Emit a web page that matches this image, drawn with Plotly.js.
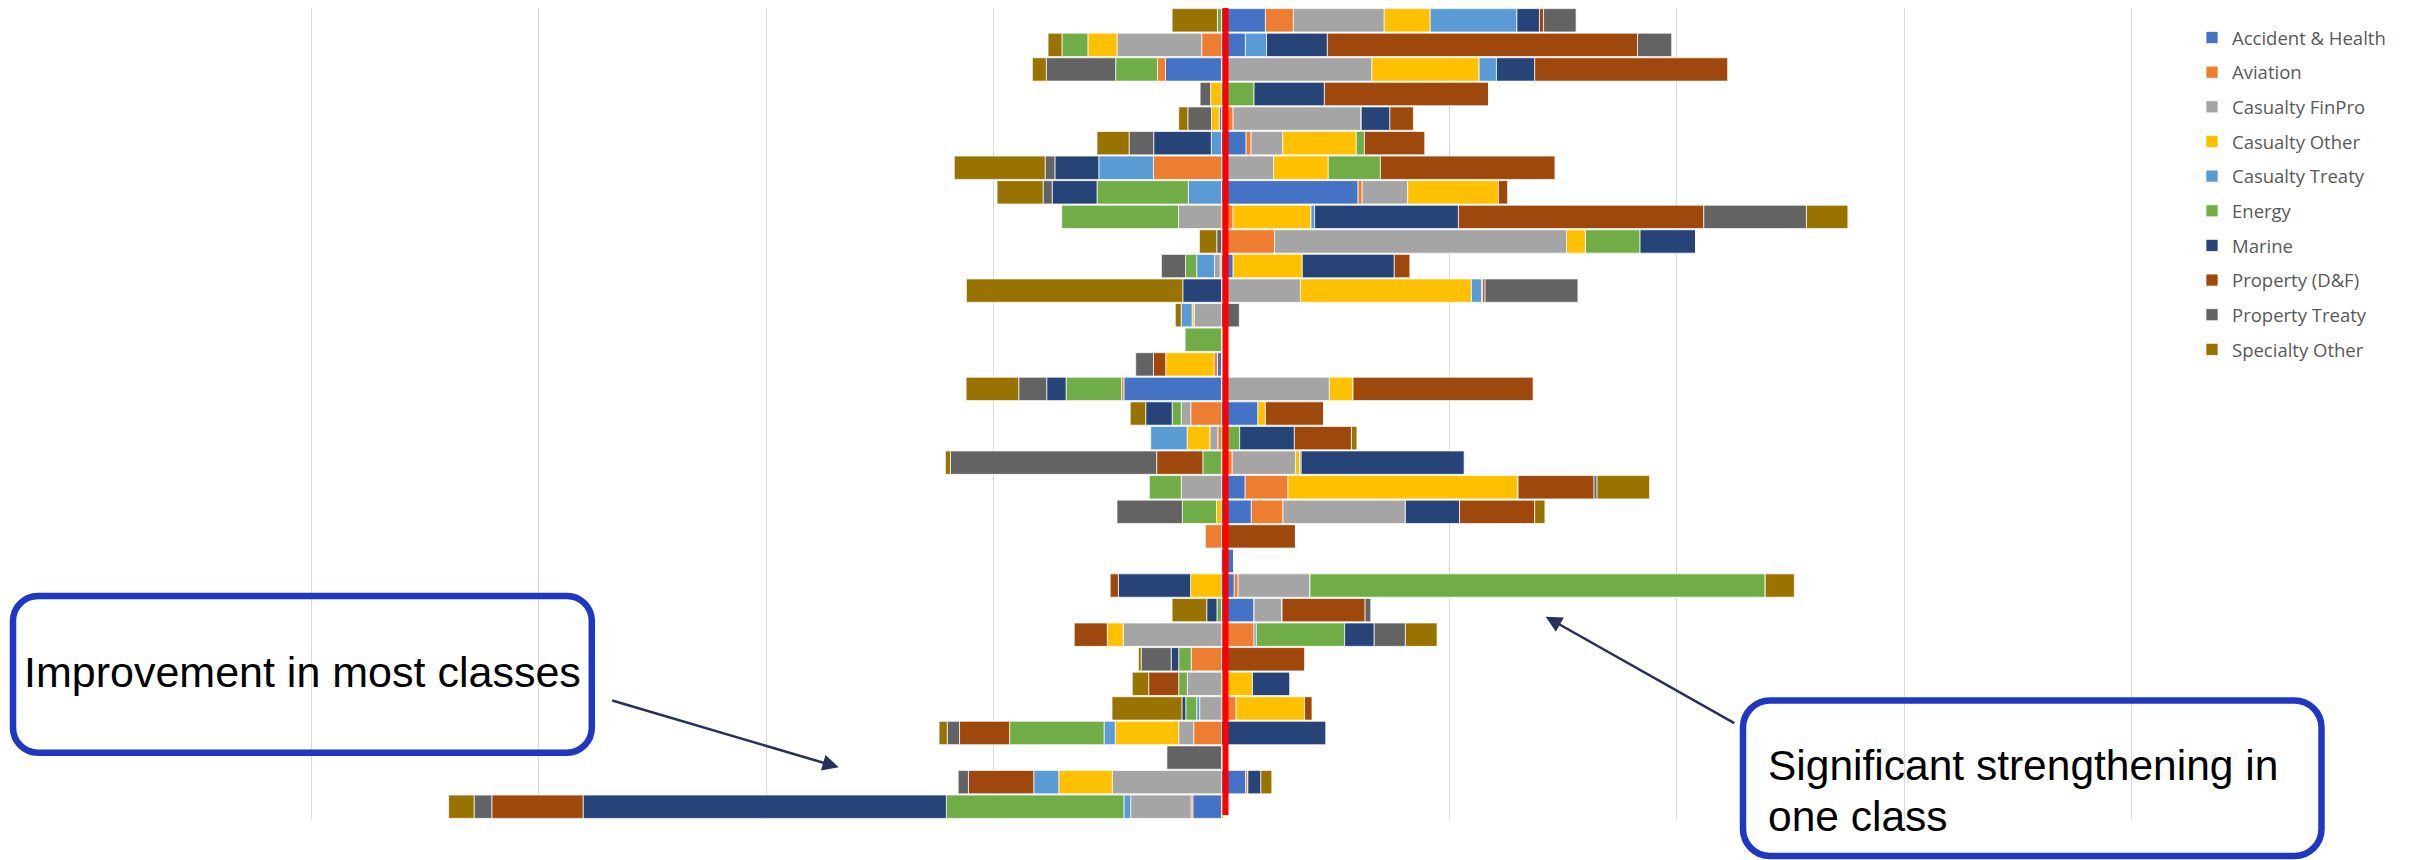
<!DOCTYPE html>
<html><head><meta charset="utf-8">
<script src="https://cdn.plot.ly/plotly-3.0.1.min.js"></script>
<style>html,body{margin:0;padding:0;background:#fff}#chart{width:2415px;height:860px}</style>
</head><body><div id="chart"></div>
<script>
// Row categories (top to bottom)
const rows = ['1','2','3','4','5','6','7','8','9','10','11','12','13','14','15','16','17','18','19','20','21','22','23','24','25','26','27','28','29','30','31','32','33'];

const seriesNames = ['Accident & Health','Aviation','Casualty FinPro','Casualty Other','Casualty Treaty','Energy','Marine','Property (D&F)','Property Treaty','Specialty Other'];
const seriesColors = ['#4472C4','#ED7D31','#A5A5A5','#FFC000','#5B9BD5','#70AD47','#264478','#9E480E','#636363','#997300'];

const accidentHealth = [0.193,0.105,-0.246,0,-0.010,0.108,0,0.600,0,0,0.051,0,0,0,-0.018,-0.429,0.160,0,0,0.104,0.131,0,0.054,0.056,0.143,0,0,0,0,0,0,0.106,-0.126];
const aviation       = [0.123,-0.087,-0.035,0,0.051,0.022,-0.299,0.018,0.051,0.233,-0.006,0,0,0,-0.015,-0.010,-0.135,-0.016,0.047,0.188,0.139,-0.071,0,0.017,0,0.143,-0.133,0,0.064,-0.122,0,0.010,-0.008];
const casualtyFinPro = [0.399,-0.372,0.661,0,0.563,0.139,0.229,0.200,-0.189,1.283,-0.025,0.347,-0.120,0,0,0.474,-0.042,-0.035,0.278,-0.177,0.538,0,0,0.316,0.123,-0.432,0,-0.150,-0.096,-0.066,0,-0.480,-0.265];
const casualtyOther  = [0.202,-0.128,0.471,-0.048,-0.034,0.323,0.240,0.399,0.342,0.083,0.304,0.751,-0.009,0,-0.212,0.104,0.033,-0.100,0.019,1.011,-0.022,0,0,-0.136,0,-0.070,0,0.136,0.301,-0.279,0,-0.235,0.010];
const casualtyTreaty = [0.381,0.093,0.076,0,0,-0.045,-0.240,-0.146,0.016,0,-0.078,0.045,-0.048,0,0,0,0,-0.160,0.006,0,0,0,0,0,0,0.010,0,0,-0.013,-0.049,0,-0.110,-0.030];
const energy         = [-0.018,-0.114,-0.184,0.143,0,0.036,0.229,-0.401,-0.513,0.240,-0.049,0.005,0,-0.160,0,-0.244,-0.040,0.080,-0.082,-0.140,-0.150,0,0,2.000,-0.020,0.388,-0.055,-0.038,-0.048,-0.415,0,0,-0.780];
const marine         = [0.099,0.267,0.168,0.309,0.126,-0.253,-0.193,-0.197,0.632,0.244,0.404,-0.170,0,0,0,-0.085,-0.116,0.240,0.716,0,0.238,0,0,-0.317,-0.045,0.130,-0.033,0.165,-0.017,0.458,0,0.057,-1.596];
const propertyDF     = [0.018,1.363,0.848,0.722,0.103,0.265,0.767,0.040,1.078,0,0.070,0.010,0,0,-0.054,0.791,0.256,0.251,-0.203,0.334,0.330,0.325,0,-0.036,0.365,-0.145,0.365,-0.132,0.034,-0.220,0,-0.287,-0.401];
const propertyTreaty = [0.143,0.150,-0.305,-0.046,-0.104,-0.108,-0.043,-0.040,0.451,-0.021,-0.106,0.408,0.078,0,-0.078,-0.123,0,0,-0.906,0.013,-0.287,0,0,0,0.025,0.137,-0.132,0,0,-0.054,-0.240,-0.045,-0.078];
const specialtyOther = [-0.199,-0.061,-0.061,0,-0.040,-0.141,-0.399,-0.202,0.182,-0.076,0,-0.951,-0.026,0,0,-0.231,-0.068,0.024,-0.022,0.231,0.045,0,0,0.128,-0.152,0.139,-0.012,-0.072,-0.307,-0.036,0,0.048,-0.112];

const seriesValues = [accidentHealth, aviation, casualtyFinPro, casualtyOther, casualtyTreaty, energy, marine, propertyDF, propertyTreaty, specialtyOther];

const annoLeft = 'Improvement in most classes';
const annoRightLine1 = 'Significant strengthening in';
const annoRightLine2 = 'one class';

// ---- layout geometry (pixels) ----
const W = 2415, H = 860;
const M = {l: 309, r: 281, t: 8, b: 41};
const PW = W - M.l - M.r, PH = H - M.t - M.b;
const HALF = PW / 2 / 227.6;
const px2x = p => (p - M.l) / PW;
const px2y = p => (H - M.b - p) / PH;

function roundRect(x0, y0, x1, y1, r) {
  const k = 0.5523 * r;
  const P = (x, y) => px2x(x).toFixed(5) + ',' + px2y(y).toFixed(5);
  return 'M' + P(x0 + r, y0) +
    ' L' + P(x1 - r, y0) +
    ' C' + P(x1 - r + k, y0) + ' ' + P(x1, y0 + r - k) + ' ' + P(x1, y0 + r) +
    ' L' + P(x1, y1 - r) +
    ' C' + P(x1, y1 - r + k) + ' ' + P(x1 - r + k, y1) + ' ' + P(x1 - r, y1) +
    ' L' + P(x0 + r, y1) +
    ' C' + P(x0 + r - k, y1) + ' ' + P(x0, y1 - r + k) + ' ' + P(x0, y1 - r) +
    ' L' + P(x0, y0 + r) +
    ' C' + P(x0, y0 + r - k) + ' ' + P(x0 + r - k, y0) + ' ' + P(x0 + r, y0) + ' Z';
}

const traces = seriesNames.map((name, i) => ({
  type: 'bar',
  orientation: 'h',
  name: name,
  legendgroup: 'g' + i,
  y: rows,
  x: seriesValues[i],
  marker: {color: seriesColors[i], line: {color: 'rgba(255,255,255,0.7)', width: 1}},
  hoverinfo: 'name+x'
}));

const boxColor = '#1F37C2';
const arrowColor = '#27305A';

const layout = {
  width: W, height: H,
  margin: {l: M.l, r: M.r, t: M.t, b: M.b, pad: 0},
  paper_bgcolor: '#FFFFFF', plot_bgcolor: '#FFFFFF',
  barmode: 'relative',
  bargap: 0.05,
  showlegend: true,
  legend: {
    x: px2x(2192), xanchor: 'left',
    y: px2y(19), yanchor: 'top',
    traceorder: 'grouped',
    tracegroupgap: 7.6,
    font: {family: 'Open Sans', size: 18.5, color: '#595959'},
    bgcolor: 'rgba(0,0,0,0)', borderwidth: 0
  },
  xaxis: {
    range: [-HALF, HALF], tick0: 0, dtick: 1,
    showgrid: true, gridcolor: '#D9D9D9', gridwidth: 1,
    zeroline: false, showticklabels: false, ticks: '', showline: false, fixedrange: true
  },
  yaxis: {
    type: 'category', categoryorder: 'array', categoryarray: rows,
    range: [32.5, -0.5],
    showgrid: false, zeroline: false, showticklabels: false, ticks: '', showline: false, fixedrange: true
  },
  shapes: [
    {type: 'rect', layer: 'above', xref: 'x', xsizemode: 'pixel', xanchor: 0, x0: 1, x1: 7,
     yref: 'paper', y0: px2y(815), y1: 1, fillcolor: '#FF0000', line: {width: 0}},
    {type: 'path', layer: 'above', xref: 'paper', yref: 'paper',
     path: roundRect(13, 596, 591.8, 752.7, 25), line: {color: boxColor, width: 6.5}},
    {type: 'path', layer: 'above', xref: 'paper', yref: 'paper',
     path: roundRect(1743, 700.5, 2321.5, 856, 27), line: {color: boxColor, width: 6.5}}
  ],
  annotations: [
    {xref: 'paper', yref: 'paper', x: px2x(302.6), y: px2y(671.7), xanchor: 'center', yanchor: 'middle',
     text: annoLeft, showarrow: false, borderpad: 0, borderwidth: 0,
     font: {family: 'Liberation Sans', size: 43, color: '#000000'}},
    {xref: 'paper', yref: 'paper', x: px2x(1768), y: px2y(765), xanchor: 'left', yanchor: 'middle',
     text: annoRightLine1, showarrow: false, borderpad: 0, borderwidth: 0,
     font: {family: 'Liberation Sans', size: 42.5, color: '#000000'}},
    {xref: 'paper', yref: 'paper', x: px2x(1768), y: px2y(816.7), xanchor: 'left', yanchor: 'middle',
     text: annoRightLine2, showarrow: false, borderpad: 0, borderwidth: 0,
     font: {family: 'Liberation Sans', size: 42.5, color: '#000000'}},
    {xref: 'paper', yref: 'paper', x: px2x(838.8), y: px2y(767.3), text: '', showarrow: true,
     ax: -228.1, ay: -67.3, axref: 'pixel', ayref: 'pixel',
     arrowhead: 2, arrowsize: 1.3, arrowwidth: 2.5, arrowcolor: arrowColor, standoff: 0, startstandoff: 0},
    {xref: 'paper', yref: 'paper', x: px2x(1545.7), y: px2y(616.7), text: '', showarrow: true,
     ax: 190.1, ay: 107.3, axref: 'pixel', ayref: 'pixel',
     arrowhead: 2, arrowsize: 1.3, arrowwidth: 2.5, arrowcolor: arrowColor, standoff: 0, startstandoff: 0}
  ]
};

Plotly.newPlot('chart', traces, layout, {displayModeBar: false, staticPlot: true});
</script>
</body></html>
